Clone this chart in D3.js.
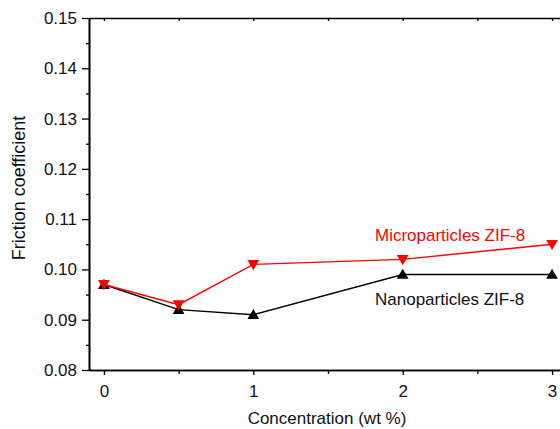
<!DOCTYPE html>
<html>
<head>
<meta charset="utf-8">
<script src="https://cdn.jsdelivr.net/npm/d3@7"></script>
<style>
  html, body { margin: 0; padding: 0; background: #fff; }
  svg { display: block; font-family: "Liberation Sans", Arial, sans-serif; }
</style>
</head>
<body>
<svg id="chart"></svg>
<script>
// Data
const concentrations = [0, 0.5, 1, 2, 3];
const nanoValues = [0.097, 0.092, 0.091, 0.099, 0.099];
const microValues = [0.097, 0.093, 0.101, 0.102, 0.105];
const xTickValues = [0, 1, 2, 3];
const yTickValues = [0.08, 0.09, 0.10, 0.11, 0.12, 0.13, 0.14, 0.15];

const width = 560, height = 429;
const margin = { top: 18, left: 89, bottom: 59 };
const plotRight = 567; // axis box runs past the picture edge
const FONT = '"Liberation Sans", Arial, sans-serif';

const svg = d3.select('#chart')
    .attr('width', width)
    .attr('height', height);

const x = d3.scaleLinear().domain([-0.1, 3.1]).range([margin.left, plotRight]);
const y = d3.scaleLinear().domain([0.08, 0.15]).range([height - margin.bottom, margin.top]);

// Axes
const yAxis = svg.append('g')
    .attr('transform', `translate(${margin.left},0)`)
    .call(d3.axisLeft(y).tickValues(yTickValues).tickFormat(d3.format('.2f')).tickSize(7).tickSizeOuter(0));
svg.append('g')
    .attr('transform', `translate(${margin.left},0)`)
    .call(d3.axisLeft(y).tickValues(d3.range(0.085, 0.15, 0.01)).tickFormat('').tickSize(3).tickSizeOuter(0));

const xAxis = svg.append('g')
    .attr('transform', `translate(0,${y(0.08)})`)
    .call(d3.axisBottom(x).tickValues(xTickValues).tickFormat(d3.format('d')).tickSize(5).tickSizeOuter(0).tickPadding(10));
svg.append('g')
    .attr('transform', `translate(0,${y(0.08)})`)
    .call(d3.axisBottom(x).tickValues([0.5, 1.5, 2.5]).tickFormat('').tickSize(4).tickSizeOuter(0));

// Top mirror axis, ticks pointing inward
svg.append('g')
    .attr('transform', `translate(0,${y(0.15)})`)
    .call(d3.axisBottom(x).tickValues([0, 0.5, 1, 1.5, 2, 2.5, 3]).tickFormat('').tickSize(3).tickSizeOuter(0));

svg.selectAll('.domain').attr('stroke', '#000').attr('stroke-width', 1.6);
svg.selectAll('.tick line').attr('stroke', '#000').attr('stroke-width', 1.3);
svg.selectAll('.tick text').attr('font-size', 17).attr('fill', '#111')
    .attr('font-family', FONT);
yAxis.selectAll('.tick text').attr('x', -12);

// Axis titles
svg.append('text')
    .attr('x', 327)
    .attr('y', 424)
    .attr('text-anchor', 'middle')
    .attr('font-size', 17)
    .attr('fill', '#111')
    .text('Concentration (wt %)');

svg.append('text')
    .attr('transform', 'translate(25,188) rotate(-90)')
    .attr('text-anchor', 'middle')
    .attr('font-size', 18)
    .attr('fill', '#111')
    .text('Friction coefficient');

// Series
const series = [
    { name: 'Nanoparticles ZIF-8', values: nanoValues, color: '#000', up: true },
    { name: 'Microparticles ZIF-8', values: microValues, color: '#ff0000', up: false },
];

const line = d3.line()
    .x(d => x(d[0]))
    .y(d => y(d[1]));

const tri = d3.symbol().type(d3.symbolTriangle).size(60);

series.forEach(s => {
    const pts = concentrations.map((c, i) => [c, s.values[i]]);
    svg.append('path')
        .datum(pts)
        .attr('fill', 'none')
        .attr('stroke', s.color)
        .attr('stroke-width', 1.4)
        .attr('d', line);
    svg.append('g')
        .selectAll('path')
        .data(pts)
        .join('path')
        .attr('d', tri)
        .attr('fill', s.color)
        .attr('transform', d => `translate(${x(d[0])},${y(d[1]) + (s.up ? 1 : -1)}) rotate(${s.up ? 0 : 180})`);
});

// Series labels
svg.append('text')
    .attr('x', 375)
    .attr('y', 241)
    .attr('font-size', 17)
    .attr('fill', '#ff0000')
    .text('Microparticles ZIF-8');

svg.append('text')
    .attr('x', 375)
    .attr('y', 305)
    .attr('font-size', 17)
    .attr('fill', '#111')
    .text('Nanoparticles ZIF-8');
</script>
</body>
</html>
